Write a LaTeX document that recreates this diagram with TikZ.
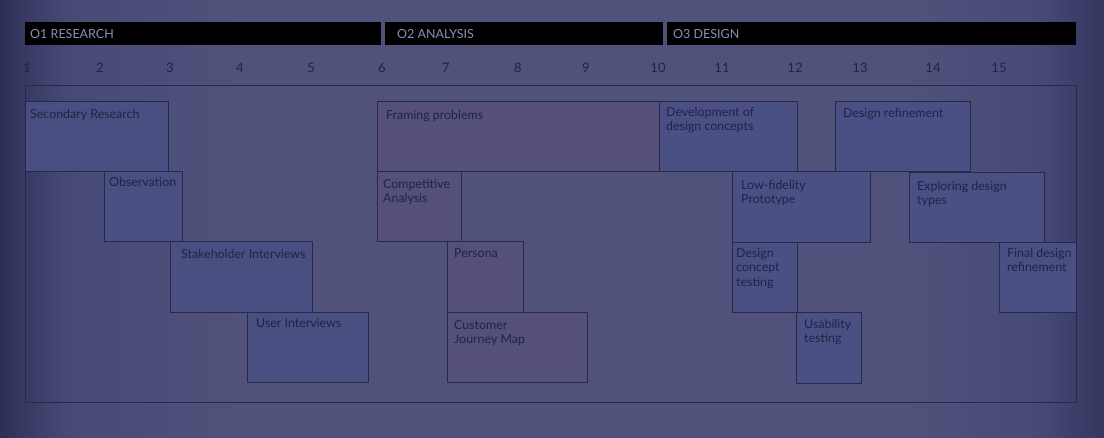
\documentclass[tikz,border=0pt]{standalone}
\usepackage{fontspec}
\setmainfont{Lato}
\usetikzlibrary{positioning}
\definecolor{bgedge}{HTML}{2D2F55}
\definecolor{bgsoft}{HTML}{474A77}
\definecolor{bgmid}{HTML}{50527B}
\definecolor{bgright}{HTML}{34365E}
\definecolor{headtext}{HTML}{8C8FB5}
\definecolor{ink}{HTML}{202246}
\definecolor{edge}{HTML}{272947}
\definecolor{resfill}{HTML}{4A4F81}
\definecolor{anafill}{HTML}{554F7B}
\definecolor{desfill}{HTML}{4B5084}
\pgfdeclarehorizontalshading{backdrop}{100bp}{color(0bp)=(bgedge); color(25bp)=(bgedge); color(28bp)=(bgsoft); color(36bp)=(bgmid); color(66bp)=(bgmid); color(72bp)=(bgsoft); color(75bp)=(bgright); color(100bp)=(bgright)}

\begin{document}
\begin{tikzpicture}[x=1pt,y=-1pt,
	task/.style={draw=edge,line width=0.8pt,anchor=north west,inner sep=0pt},
	tlabel/.style={anchor=north west,inner sep=0pt,align=left,text=ink,font=\fontsize{12.4}{14.5}\selectfont},
	phase/.style={fill=black,anchor=north west,inner sep=0pt,minimum height=23pt},
	ptext/.style={anchor=west,inner sep=0pt,text=headtext,font=\fontsize{12.5}{15}\selectfont},
	week/.style={text=ink,inner sep=0pt,font=\fontsize{13}{15}\selectfont}]
	\useasboundingbox (0,0) rectangle (1104,438);
	\shade[shading=backdrop] (0,0) rectangle (1104,438);
	% phases
	\node[phase,minimum width=356pt,label={[ptext,xshift=5pt]west:O1 RESEARCH}] (research) at (25,22) {};
	\node[phase,minimum width=278pt,label={[ptext,xshift=12pt]west:O2 ANALYSIS}] (analysis) at (385,22) {};
	\node[phase,minimum width=409pt,label={[ptext,xshift=6pt]west:O3 DESIGN}] (design) at (667,22) {};
	% weeks
	\node[week] (w1) at (27,68) {1};
	\node[week] (w2) at (100,68) {2};
	\node[week] (w3) at (170,68) {3};
	\node[week] (w4) at (240,68) {4};
	\node[week] (w5) at (311,68) {5};
	\node[week] (w6) at (382,68) {6};
	\node[week] (w7) at (446,68) {7};
	\node[week] (w8) at (518,68) {8};
	\node[week] (w9) at (586,68) {9};
	\node[week] (w10) at (658,68) {10};
	\node[week] (w11) at (722,68) {11};
	\node[week] (w12) at (795,68) {12};
	\node[week] (w13) at (860,68) {13};
	\node[week] (w14) at (933,68) {14};
	\node[week] (w15) at (999,68) {15};
	% chart frame
	\node[task,minimum width=1051pt,minimum height=317pt] (chart) at (25,85) {};
	% research
	\node[task,fill=resfill,minimum width=143pt,minimum height=70pt,label={[tlabel,xshift=5pt,yshift=-8pt]north west:Secondary Research}] (secres) at (25,101) {};
	\node[task,fill=resfill,minimum width=78pt,minimum height=70pt,label={[tlabel,xshift=5pt,yshift=-6pt]north west:Observation}] (observ) at (104,171) {};
	\node[task,fill=resfill,minimum width=142pt,minimum height=71pt,label={[tlabel,xshift=11pt,yshift=-8pt]north west:Stakeholder Interviews}] (stake) at (170,241) {};
	\node[task,fill=resfill,minimum width=121pt,minimum height=70pt,label={[tlabel,xshift=9pt,yshift=-6pt]north west:User Interviews}] (userint) at (247,312) {};
	% analysis
	\node[task,fill=anafill,minimum width=282pt,minimum height=70pt,label={[tlabel,xshift=9pt,yshift=-9pt]north west:Framing problems}] (framing) at (377,101) {};
	\node[task,fill=anafill,minimum width=84pt,minimum height=70pt,label={[tlabel,xshift=6pt,yshift=-8pt]north west:Competitive\\Analysis}] (compet) at (377,171) {};
	\node[task,fill=anafill,minimum width=76pt,minimum height=71pt,label={[tlabel,xshift=7pt,yshift=-7pt]north west:Persona}] (persona) at (447,241) {};
	\node[task,fill=anafill,minimum width=140pt,minimum height=70pt,label={[tlabel,xshift=7pt,yshift=-8pt]north west:Customer\\Journey Map}] (journey) at (447,312) {};
	% design
	\node[task,fill=desfill,minimum width=138pt,minimum height=70pt,label={[tlabel,xshift=7pt,yshift=-6pt]north west:Development of\\design concepts}] (develop) at (659,101) {};
	\node[task,fill=desfill,minimum width=135pt,minimum height=70pt,label={[tlabel,xshift=8pt,yshift=-7pt]north west:Design refinement}] (refine) at (835,101) {};
	\node[task,fill=desfill,minimum width=138pt,minimum height=71pt,label={[tlabel,xshift=9pt,yshift=-9pt]north west:Low-fidelity\\Prototype}] (lofi) at (732,171) {};
	\node[task,fill=desfill,minimum width=135pt,minimum height=70pt,label={[tlabel,xshift=8pt,yshift=-9pt]north west:Exploring design\\types}] (explore) at (909,172) {};
	\node[task,fill=desfill,minimum width=65pt,minimum height=70pt,label={[tlabel,xshift=4pt,yshift=-6pt]north west:Design\\concept\\testing}] (conctest) at (732,242) {};
	\node[task,fill=desfill,minimum width=77pt,minimum height=70pt,label={[tlabel,xshift=8pt,yshift=-6pt]north west:Final design\\refinement}] (final) at (999,242) {};
	\node[task,fill=desfill,minimum width=65pt,minimum height=71pt,label={[tlabel,xshift=8pt,yshift=-7pt]north west:Usability\\testing}] (usetest) at (796,312) {};
\end{tikzpicture}
\end{document}
